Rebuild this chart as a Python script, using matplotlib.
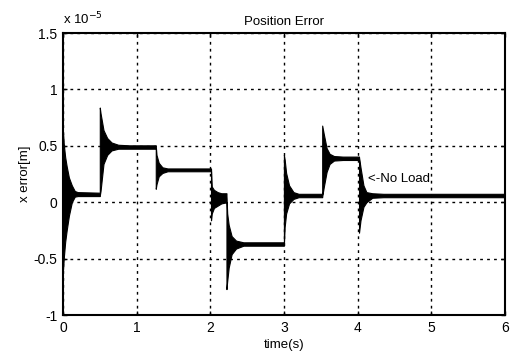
import matplotlib
matplotlib.use("Agg")
import matplotlib.pyplot as plt

# Envelope of the (densely oscillating) position error, units of 1e-5 m
t_env = [0.00, 0.01, 0.03, 0.05, 0.08, 0.12, 0.16, 0.20, 0.50,
         0.50, 0.51, 0.55, 0.60, 0.66, 0.75, 0.90, 1.26,
         1.26, 1.27, 1.30, 1.35, 1.42, 1.55, 2.01,
         2.01, 2.02, 2.05, 2.10, 2.15, 2.22,
         2.22, 2.23, 2.25, 2.29, 2.35, 2.45, 2.60, 3.00,
         3.00, 3.01, 3.03, 3.07, 3.13, 3.20, 3.52,
         3.52, 3.54, 3.58, 3.62, 3.68, 3.80, 4.02,
         4.02, 4.04, 4.08, 4.12, 4.20, 4.35, 6.00]
upper_env = [0.62, 0.52, 0.40, 0.32, 0.22, 0.15, 0.10, 0.09, 0.085,
             0.84, 0.79, 0.64, 0.57, 0.53, 0.51, 0.505, 0.505,
             0.50, 0.42, 0.35, 0.31, 0.30, 0.30, 0.30,
             0.30, 0.14, 0.11, 0.09, 0.08, 0.08,
             0.06, -0.10, -0.20, -0.30, -0.34, -0.355, -0.355, -0.355,
             0.42, 0.38, 0.26, 0.15, 0.09, 0.075, 0.075,
             0.68, 0.61, 0.48, 0.43, 0.41, 0.405, 0.405,
             0.40, 0.31, 0.15, 0.09, 0.08, 0.075, 0.075]
lower_env = [-0.60, -0.50, -0.35, -0.25, -0.12, 0.00, 0.05, 0.055, 0.055,
             0.06, 0.10, 0.34, 0.42, 0.46, 0.475, 0.475, 0.475,
             0.12, 0.16, 0.23, 0.26, 0.275, 0.275, 0.275,
             -0.16, -0.10, -0.05, -0.03, -0.01, 0.00,
             -0.77, -0.70, -0.58, -0.46, -0.41, -0.385, -0.385, -0.385,
             -0.38, -0.22, -0.10, -0.01, 0.03, 0.045, 0.045,
             0.05, 0.13, 0.27, 0.34, 0.37, 0.375, 0.375,
             -0.27, -0.16, -0.04, 0.00, 0.04, 0.045, 0.045]

x_ticks = [0, 1, 2, 3, 4, 5, 6]
y_ticks = [-1, -0.5, 0, 0.5, 1, 1.5]
y_tick_labels = ["-1", "-0.5", "0", "0.5", "1", "1.5"]

plt.rcParams['font.family'] = ['Liberation Sans', 'DejaVu Sans']

fig = plt.figure(figsize=(5.12, 3.56), dpi=100)
ax = fig.add_axes([0.123, 0.115, 0.863, 0.792])

ax.fill_between(t_env, lower_env, upper_env, color='black', linewidth=0.8)

ax.set_xlim(0, 6)
ax.set_ylim(-1, 1.5)
ax.set_xticks(x_ticks)
ax.set_xticklabels([str(v) for v in x_ticks])
ax.set_yticks(y_ticks)
ax.set_yticklabels(y_tick_labels)
ax.tick_params(direction='in', length=3, labelsize=10, width=1,
               top=True, right=True, pad=4)
ax.grid(True, color='black', linestyle=(0, (2, 3)), linewidth=1.0)
for s in ax.spines.values():
    s.set_linewidth(1.5)

ax.set_title("Position Error", fontsize=9.5, pad=6)
ax.set_xlabel("time(s)", fontsize=9.5, labelpad=3)
ax.set_ylabel("x error[m]", fontsize=9.5, labelpad=2)
ax.text(0.0, 1.02, r"x 10$^{-5}$", transform=ax.transAxes, fontsize=9.5,
        ha='left', va='bottom')
ax.text(4.14, 0.21, "<-No Load", fontsize=9.5, ha='left', va='center')

fig.savefig("out.png", dpi=100)
